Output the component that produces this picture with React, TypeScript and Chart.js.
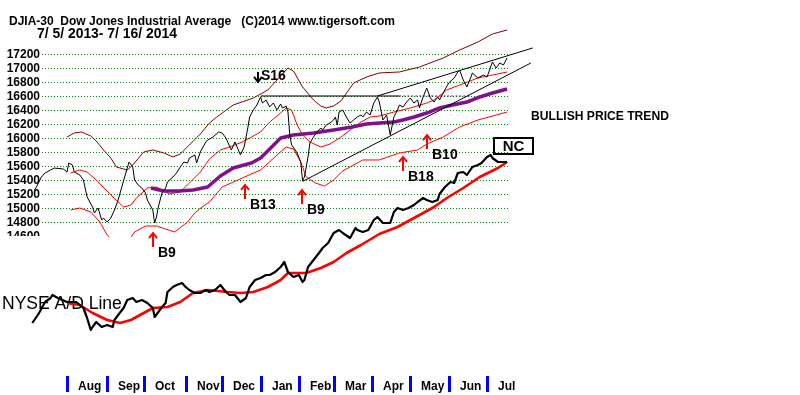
import React, { useEffect, useRef } from 'react';
import { Chart, registerables } from 'chart.js';

Chart.register(...registerables);

// ---------- data (x = trading-day index from 7/5/2013) ----------
const priceTicks = [14600, 14800, 15000, 15200, 15400, 15600, 15800, 16000, 16200, 16400, 16600, 16800, 17000, 17200];
const months = ['Aug', 'Sep', 'Oct', 'Nov', 'Dec', 'Jan', 'Feb', 'Mar', 'Apr', 'May', 'Jun', 'Jul'];
const monthStartIdx = [19, 41, 61, 84, 104, 125, 146, 165, 186, 207, 228, 249];

const djiaIdx = [1, 2, 5, 7, 10, 12, 17, 19, 20, 22, 23, 26, 28, 30, 33, 34, 36, 38, 39, 41, 43, 45, 47, 49, 52, 53, 55, 56, 58, 60, 62, 63, 66, 67, 68, 69, 71, 73, 74, 77, 79, 81, 83, 85, 86, 89, 90, 92, 95, 96, 99, 102, 104, 106, 107, 109, 111, 114, 116, 118, 119, 121, 123, 125, 126, 128, 130, 132, 134, 136, 137, 139, 140, 141, 142, 144, 145, 147, 148, 149, 150, 151, 152, 154, 156, 158, 159, 161, 163, 165, 166, 167, 168, 170, 172, 174, 176, 178, 180, 181, 183, 185, 187, 189, 190, 192, 194, 196, 198, 200, 201, 203, 205, 207, 209, 211, 212, 214, 216, 218, 220, 222, 223, 225, 228, 231, 233, 234, 236, 238, 240, 241, 244, 245, 247, 249, 251, 252, 254, 256, 258, 260];
const djiaVal = [15257, 15286, 15443, 15500, 15543, 15571, 15557, 15514, 15643, 15614, 15514, 15471, 15400, 15157, 15014, 14929, 15000, 14829, 14857, 14800, 14857, 14971, 15114, 15300, 15571, 15657, 15586, 15400, 15329, 15286, 15214, 15114, 14971, 14786, 14871, 15014, 15214, 15286, 15371, 15443, 15500, 15586, 15657, 15643, 15714, 15757, 15643, 15800, 15943, 15971, 16014, 16086, 16071, 16000, 15943, 15829, 15943, 15757, 15871, 16143, 16300, 16400, 16471, 16586, 16500, 16543, 16443, 16500, 16400, 16486, 16429, 16457, 16371, 16043, 15900, 15829, 15786, 15657, 15390, 15443, 15586, 15729, 15929, 16014, 16086, 16143, 16114, 16186, 16214, 16257, 16300, 16186, 16371, 16400, 16300, 16214, 16257, 16300, 16329, 16300, 16371, 16329, 16500, 16586, 16514, 16257, 16329, 16043, 16300, 16400, 16471, 16443, 16514, 16571, 16500, 16543, 16429, 16586, 16714, 16571, 16514, 16586, 16543, 16643, 16786, 16857, 16943, 16971, 16829, 16729, 16857, 16929, 16857, 16871, 16900, 16871, 17014, 17086, 17000, 17071, 17043, 17143];

const ma65Idx = [65, 72, 80, 88, 96, 103, 110, 116, 120, 125, 130, 136, 143, 154, 165, 175, 183, 190, 198, 203, 209, 216, 223, 230, 238, 245, 252, 260];
const ma65Val = [15286, 15243, 15243, 15257, 15300, 15457, 15571, 15614, 15643, 15714, 15843, 16000, 16043, 16071, 16114, 16157, 16200, 16214, 16229, 16257, 16300, 16357, 16429, 16471, 16514, 16586, 16643, 16700];

const ma21Idx = [21, 26, 30, 35, 43, 50, 54, 57, 63, 68, 72, 75, 81, 86, 92, 97, 103, 108, 115, 119, 125, 130, 136, 139, 142, 145, 148, 152, 158, 163, 169, 174, 180, 185, 190, 198, 207, 216, 220, 227, 234, 244, 252, 260];
const ma21Val = [15500, 15543, 15514, 15400, 15186, 15014, 15043, 15143, 15286, 15300, 15243, 15200, 15229, 15357, 15514, 15700, 15829, 15871, 15943, 16000, 16086, 16229, 16357, 16429, 16400, 16186, 16043, 15943, 15871, 15914, 16014, 16114, 16229, 16300, 16314, 16371, 16429, 16500, 16543, 16686, 16757, 16857, 16900, 16943];

const upperBandIdx = [19, 23, 27, 32, 35, 39, 43, 46, 50, 52, 55, 61, 66, 72, 77, 81, 86, 92, 97, 101, 110, 121, 129, 134, 140, 143, 148, 154, 158, 161, 165, 169, 176, 183, 190, 201, 212, 225, 234, 244, 252, 260];
const upperBandVal = [16014, 16071, 16086, 16029, 15957, 15829, 15714, 15586, 15557, 15543, 15614, 15800, 15829, 15786, 15729, 15771, 15900, 16057, 16214, 16300, 16471, 16571, 16686, 16829, 17000, 16957, 16729, 16543, 16457, 16429, 16457, 16529, 16786, 16871, 16929, 16943, 17014, 17143, 17257, 17371, 17486, 17543];

const lowerBandIdx = [21, 26, 32, 37, 41, 44, 48, 52, 56, 62, 68, 73, 78, 85, 89, 93, 97, 104, 115, 125, 134, 139, 143, 147, 150, 155, 160, 165, 170, 175, 181, 190, 201, 211, 216, 225, 234, 244, 252, 260];
const lowerBandVal = [14971, 15000, 14943, 14800, 14614, 14540, 14490, 14500, 14657, 14743, 14743, 14700, 14657, 14800, 14929, 15014, 15086, 15300, 15429, 15543, 15757, 15871, 15843, 15657, 15443, 15357, 15314, 15400, 15530, 15600, 15686, 15686, 15786, 15829, 15914, 16014, 16157, 16257, 16314, 16371];

const resistIdx = [125, 201];
const resistVal = [16600, 16600];
const resistExtIdx = [201, 240];
const resistExtVal = [16600, 16600];
const upperTrendIdx = [189, 274];
const upperTrendVal = [16600, 17286];
const lowerTrendIdx = [148, 273];
const lowerTrendVal = [15380, 17071];

// NYSE A/D line (relative units)
const adIdx = [0, 3, 4, 7, 10, 11, 14, 19, 24, 28, 30, 32, 33, 35, 38, 41, 44, 45, 47, 50, 52, 55, 57, 60, 63, 66, 67, 69, 71, 73, 74, 77, 79, 82, 84, 86, 89, 92, 95, 97, 100, 103, 106, 108, 111, 114, 117, 119, 122, 125, 128, 130, 133, 136, 138, 140, 143, 146, 148, 149, 151, 154, 157, 159, 162, 165, 168, 170, 174, 177, 178, 181, 184, 187, 189, 192, 196, 198, 200, 203, 206, 209, 211, 214, 216, 219, 222, 223, 226, 229, 231, 233, 236, 238, 241, 244, 246, 249, 251, 252, 255, 258, 260];
const adVal = [72, 80, 83, 93, 97, 100, 97, 93, 93, 87, 77, 65, 68, 73, 68, 70, 68, 75, 80, 87, 95, 97, 93, 95, 92, 87, 78, 83, 88, 92, 103, 108, 110, 112, 108, 105, 102, 102, 105, 103, 105, 110, 103, 100, 100, 93, 97, 108, 115, 117, 120, 120, 123, 128, 133, 123, 118, 120, 113, 115, 128, 135, 142, 147, 152, 162, 165, 162, 157, 167, 165, 163, 165, 175, 178, 172, 172, 183, 187, 185, 187, 190, 193, 197, 195, 193, 195, 201, 208, 213, 212, 222, 223, 220, 228, 230, 232, 238, 240, 237, 233, 233, 233];
const adMaIdx = [19, 26, 33, 41, 48, 54, 59, 66, 74, 81, 88, 96, 107, 114, 121, 129, 136, 140, 150, 158, 165, 172, 180, 190, 200, 209, 220, 227, 236, 245, 255, 260];
const adMaVal = [92, 90, 82, 75, 72, 75, 80, 87, 88, 93, 102, 105, 103, 102, 103, 108, 115, 122, 122, 127, 133, 142, 150, 161, 168, 177, 188, 197, 207, 218, 227, 233];

// signals
const signalLabels = ['B9', 'B13', 'B9', 'B18', 'B10'];
const signalIdx = [66, 116.5, 147.7, 203, 216.1];
const signalLevel = [14657, 15343, 15271, 15743, 16057];
const sellLabel = 'S16';
const sellIdx = 123.6;
const sellLevel = 16800;

const TITLE = 'DJIA-30  Dow Jones Industrial Average   (C)2014 www.tigersoft.com';
const SUBTITLE = '7/ 5/ 2013- 7/ 16/ 2014';

const FONT = '"Liberation Sans", Arial, sans-serif';

function pts(xs: number[], ys: number[]) {
  return xs.map((x, i) => ({ x, y: ys[i] }));
}

function fitText(ctx: CanvasRenderingContext2D, text: string, x: number, y: number, width: number, weight: string) {
  ctx.font = `${weight} 20px ${FONT}`;
  const w = ctx.measureText(text).width;
  const size = (20 * width) / w;
  ctx.font = `${weight} ${size.toFixed(2)}px ${FONT}`;
  ctx.textAlign = 'left';
  ctx.textBaseline = 'middle';
  ctx.fillText(text, x, y);
}

export default function App() {
  const ref = useRef<HTMLCanvasElement>(null);

  useEffect(() => {
    document.body.style.margin = '0';
    const canvas = ref.current!;
    const PANEL_BOTTOM = 237;

    const overlay = {
      id: 'overlay',
      beforeDatasetsDraw(chart: any) {
        const ctx: CanvasRenderingContext2D = chart.ctx;
        const xs = chart.scales.x;
        const ys = chart.scales.y;
        ctx.save();
        // grid
        const gx0 = xs.getPixelForValue(5.3);
        const gx1 = xs.getPixelForValue(260.5);
        ctx.strokeStyle = 'rgb(0,128,0)';
        ctx.lineWidth = 1;
        ctx.setLineDash([1, 2]);
        priceTicks.forEach((v) => {
          const y = Math.round(ys.getPixelForValue(v)) + 0.5;
          if (y > PANEL_BOTTOM - 2) return;
          ctx.beginPath();
          ctx.moveTo(gx0, y);
          ctx.lineTo(gx1, y);
          ctx.stroke();
        });
        ctx.setLineDash([]);
        // y labels
        ctx.save();
        ctx.beginPath();
        ctx.rect(0, 0, 60, 236);
        ctx.clip();
        ctx.fillStyle = '#000';
        ctx.font = `bold 12px ${FONT}`;
        ctx.textAlign = 'right';
        ctx.textBaseline = 'middle';
        priceTicks.forEach((v) => {
          ctx.fillText(String(v), 40, ys.getPixelForValue(v) + 0.5);
        });
        ctx.restore();
        // month ticks & labels
        ctx.font = `bold 12px ${FONT}`;
        ctx.textAlign = 'left';
        ctx.textBaseline = 'middle';
        months.forEach((m, i) => {
          const x = Math.round(xs.getPixelForValue(monthStartIdx[i]));
          ctx.fillStyle = 'rgb(0,0,255)';
          ctx.fillRect(x - 1, 376, 3, 16);
          ctx.fillStyle = '#000';
          ctx.fillText(m, x + 11, 387);
        });
        // A/D label
        ctx.fillStyle = '#000';
        fitText(ctx, 'NYSE A/D Line', 2, 304, 120, 'normal');
        ctx.restore();
      },
      afterDatasetsDraw(chart: any) {
        const ctx: CanvasRenderingContext2D = chart.ctx;
        const xs = chart.scales.x;
        const ys = chart.scales.y;
        ctx.save();
        // buy signals
        signalLabels.forEach((lab, i) => {
          const x = Math.round(xs.getPixelForValue(signalIdx[i]));
          const y = ys.getPixelForValue(signalLevel[i]);
          ctx.strokeStyle = 'rgb(255,0,0)';
          ctx.lineWidth = 2;
          ctx.beginPath();
          ctx.moveTo(x, y + 1);
          ctx.lineTo(x, y + 15);
          ctx.moveTo(x - 4, y + 6);
          ctx.lineTo(x, y + 1);
          ctx.lineTo(x + 4, y + 6);
          ctx.stroke();
          ctx.fillStyle = '#000';
          ctx.font = `bold 14px ${FONT}`;
          ctx.textAlign = 'left';
          ctx.textBaseline = 'middle';
          ctx.fillText(lab, x + 5, y + 21);
        });
        // sell signal
        {
          const x = Math.round(xs.getPixelForValue(sellIdx));
          const y = ys.getPixelForValue(sellLevel);
          ctx.strokeStyle = '#000';
          ctx.lineWidth = 2;
          ctx.beginPath();
          ctx.moveTo(x, y - 10);
          ctx.lineTo(x, y);
          ctx.moveTo(x - 4, y - 5);
          ctx.lineTo(x, y);
          ctx.lineTo(x + 4, y - 5);
          ctx.stroke();
          ctx.fillStyle = '#000';
          ctx.font = `bold 14px ${FONT}`;
          ctx.textAlign = 'left';
          ctx.textBaseline = 'middle';
          ctx.fillText(sellLabel, x + 3, y - 6);
        }
        // NC box
        ctx.strokeStyle = '#000';
        ctx.lineWidth = 2;
        ctx.strokeRect(494, 138, 39, 16);
        ctx.fillStyle = '#000';
        ctx.font = `bold 15px ${FONT}`;
        ctx.textAlign = 'center';
        ctx.textBaseline = 'middle';
        ctx.fillText('NC', 513.5, 146.5);
        // texts
        fitText(ctx, 'BULLISH PRICE TREND', 531, 117, 138, 'bold');
        fitText(ctx, TITLE, 9, 21.5, 386, 'bold');
        fitText(ctx, SUBTITLE, 37, 34, 140, 'bold');
        ctx.restore();
      },
    };

    const clipPanel = { left: false, top: false, right: false, bottom: -(395 - PANEL_BOTTOM) } as any;
    const base = { pointRadius: 0, pointHoverRadius: 0, tension: 0, fill: false };

    const chart = new Chart(canvas, {
      type: 'line',
      data: {
        datasets: [
          { ...base, label: 'DJIA', data: pts(djiaIdx, djiaVal), borderColor: '#000', borderWidth: 1, yAxisID: 'y', clip: clipPanel },
          { ...base, label: 'Resistance', data: pts(resistIdx, resistVal), borderColor: '#000', borderWidth: 1, yAxisID: 'y', clip: clipPanel },
          { ...base, label: 'Upper trend', data: pts(upperTrendIdx, upperTrendVal), borderColor: '#000', borderWidth: 1, yAxisID: 'y', clip: clipPanel },
          { ...base, label: 'Lower trend', data: pts(lowerTrendIdx, lowerTrendVal), borderColor: '#000', borderWidth: 1, yAxisID: 'y', clip: clipPanel },
          { ...base, label: '65-day MA', data: pts(ma65Idx, ma65Val), borderColor: 'rgb(128,16,140)', borderWidth: 3.5, borderJoinStyle: 'round', yAxisID: 'y', clip: clipPanel },
          { ...base, label: 'Resistance ext', data: pts(resistExtIdx, resistExtVal), borderColor: 'rgb(110,30,110)', borderWidth: 1, borderDash: [2, 2], yAxisID: 'y', clip: clipPanel },
          { ...base, label: '21-day MA', data: pts(ma21Idx, ma21Val), borderColor: 'rgb(255,0,0)', borderWidth: 1, yAxisID: 'y', clip: clipPanel },
          { ...base, label: 'Upper band', data: pts(upperBandIdx, upperBandVal), borderColor: 'rgb(128,0,0)', borderWidth: 1, yAxisID: 'y', clip: clipPanel },
          { ...base, label: 'Lower band', data: pts(lowerBandIdx, lowerBandVal), borderColor: 'rgb(255,0,0)', borderWidth: 1, yAxisID: 'y', clip: clipPanel },
          { ...base, label: 'NYSE A/D', data: pts(adIdx, adVal), borderColor: '#000', borderWidth: 2.2, borderJoinStyle: 'round', yAxisID: 'y2' },
          { ...base, label: 'A/D MA', data: pts(adMaIdx, adMaVal), borderColor: 'rgb(255,0,0)', borderWidth: 2.6, borderJoinStyle: 'round', yAxisID: 'y2' },
        ],
      },
      options: {
        animation: false,
        responsive: false,
        devicePixelRatio: 1,
        events: [],
        layout: { padding: 0 },
        plugins: { legend: { display: false }, tooltip: { enabled: false } },
        scales: {
          x: { type: 'linear', min: -17.69, max: 420.4, display: false },
          y: { type: 'linear', min: 12328.6, max: 17971.4, display: false },
          y2: { type: 'linear', min: 0, max: 395, display: false },
        },
      },
      plugins: [overlay],
    } as any);
    return () => chart.destroy();
  }, []);

  return (
    <div style={{ position: 'absolute', left: 0, top: 0, width: 800, height: 395, background: '#fff' }}>
      <canvas ref={ref} width={800} height={395} style={{ display: 'block' }} />
    </div>
  );
}
